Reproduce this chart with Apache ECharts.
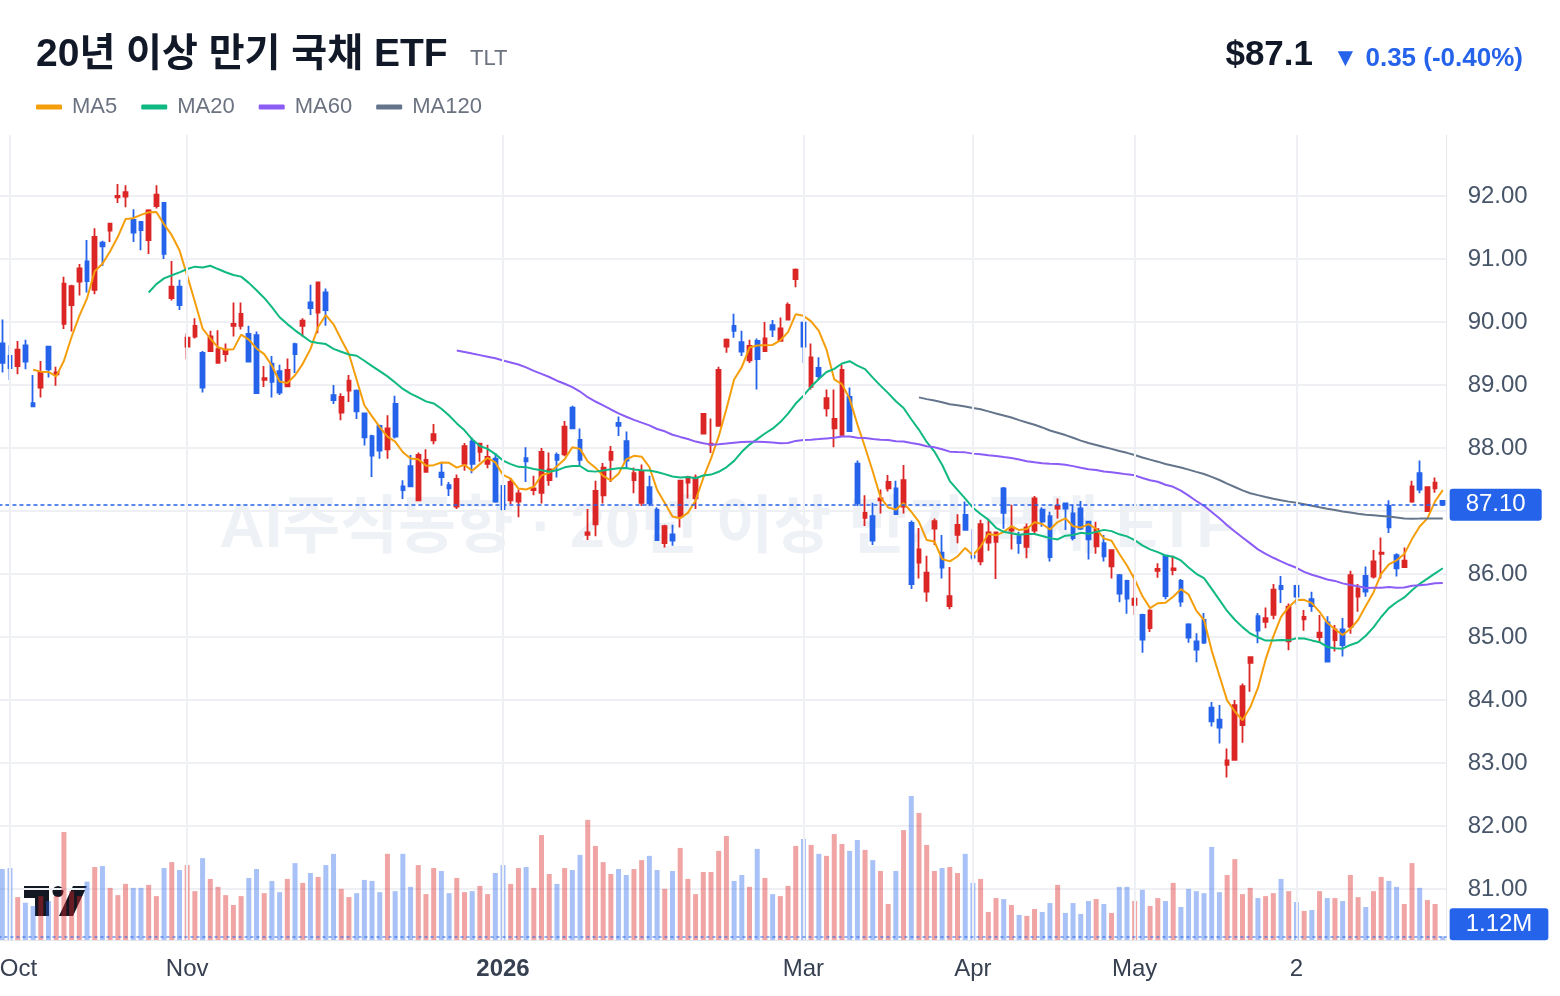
<!DOCTYPE html>
<html><head><meta charset="utf-8">
<script src="https://cdn.jsdelivr.net/npm/echarts@6/dist/echarts.min.js"></script>
<style>html,body{margin:0;padding:0;background:#fff}#c{width:1560px;height:996px}</style>
</head><body><div id="c"></div>
<script>
const openP = [
89.66,89.46,89.30,89.63,88.71,88.96,89.61,89.17,89.97,90.27,
90.64,90.96,90.51,91.26,91.45,91.98,91.99,91.62,91.59,91.30,
91.84,91.89,90.38,90.56,89.61,89.77,89.51,89.54,89.35,89.49,
89.94,89.94,89.81,89.79,89.08,89.34,89.22,88.98,89.65,89.94,
90.31,90.15,90.47,88.84,88.56,88.91,88.91,88.55,88.19,88.35,
87.98,88.70,87.39,87.71,87.17,87.62,88.12,87.61,87.41,87.07,
87.75,88.10,87.94,87.75,87.83,87.40,87.17,87.15,87.84,87.33,
87.29,87.49,87.89,87.90,88.64,88.13,86.62,86.79,87.25,87.81,
88.40,88.11,87.49,87.13,87.38,87.02,86.49,86.63,86.91,87.45,
87.20,88.23,88.05,88.35,89.61,89.94,89.68,89.39,89.70,89.54,
89.95,89.70,90.04,90.68,89.99,88.97,89.27,88.63,88.31,88.21,
88.81,87.75,86.89,86.92,87.17,87.36,87.36,87.07,86.81,86.18,
85.72,86.72,86.34,85.49,86.62,86.94,86.29,86.20,86.50,86.51,
87.36,86.69,86.60,86.43,86.69,87.02,86.92,87.04,87.12,86.96,
87.04,86.83,86.44,86.49,86.12,85.98,85.89,85.51,85.35,85.14,
86.05,86.29,86.06,85.89,85.20,84.93,85.27,83.88,83.69,82.97,
83.05,83.60,84.59,85.33,85.24,85.35,85.81,84.93,85.81,85.28,
85.60,85.00,85.23,84.95,85.12,85.16,85.64,85.97,85.96,86.32,
87.08,86.30,86.11,87.15,87.60,87.00,87.36,87.16];
const highP = [
90.04,89.63,89.70,89.72,89.16,89.38,89.62,89.29,90.72,90.59,
90.92,91.30,91.49,91.29,91.56,92.19,92.17,91.79,91.60,91.79,
92.17,91.89,90.97,90.67,89.82,90.06,89.54,89.86,89.87,89.66,
90.31,90.31,89.94,89.85,89.30,89.46,89.32,89.42,89.67,90.06,
90.59,90.63,90.53,89.00,88.87,89.16,88.93,88.55,88.21,88.37,
88.52,88.83,87.49,87.89,87.93,87.98,88.38,87.76,87.46,87.58,
88.08,88.17,88.08,88.05,87.92,87.41,87.52,87.34,88.01,87.56,
88.00,87.93,87.93,88.43,88.67,88.31,87.03,87.48,87.76,88.03,
88.50,88.26,87.69,87.74,87.56,87.06,86.78,86.78,87.49,87.56,
87.58,88.55,88.47,89.29,89.74,90.13,89.86,89.72,89.74,90.00,
90.03,90.07,90.31,90.85,90.00,89.66,89.44,88.93,88.93,89.32,
88.96,87.80,87.25,87.13,87.34,87.57,87.48,87.73,86.85,86.73,
86.29,86.88,86.62,86.11,86.95,87.15,86.71,86.86,86.86,86.67,
87.38,87.10,86.67,86.80,87.24,87.06,86.99,87.20,87.12,87.10,
87.16,86.83,86.83,86.62,86.38,86.00,85.91,86.00,85.37,85.44,
86.17,86.30,86.29,85.92,85.22,85.06,85.38,83.97,83.92,83.23,
84.00,84.26,84.68,85.38,85.47,85.84,85.97,85.53,85.83,85.43,
85.72,85.35,85.33,85.19,85.30,86.05,85.84,86.12,86.38,86.58,
87.17,86.33,86.42,87.48,87.80,87.38,87.53,87.17];
const lowP = [
89.20,89.08,89.17,89.25,88.65,88.80,89.12,88.99,89.89,89.85,
90.42,90.47,90.44,90.89,91.27,91.89,91.82,91.27,91.14,91.08,
91.80,91.00,90.34,90.19,89.41,89.74,88.88,89.53,89.35,89.37,
89.77,89.88,89.37,88.86,88.97,88.80,88.84,88.97,89.19,89.77,
90.11,89.82,89.94,88.70,88.44,88.73,88.46,88.04,87.54,87.83,
87.83,88.15,87.19,87.39,87.16,87.62,88.06,87.40,87.24,87.03,
87.64,87.60,87.78,87.68,87.13,87.00,87.11,86.90,87.46,87.25,
87.12,87.40,87.53,87.87,88.30,87.71,86.54,86.60,87.12,87.46,
88.19,87.68,87.28,87.08,87.08,86.54,86.42,86.45,86.74,87.20,
87.03,88.22,87.92,88.34,89.51,89.75,89.46,89.35,88.93,89.53,
89.76,89.70,90.04,90.55,89.35,88.93,89.08,88.50,88.01,88.19,
88.26,87.08,86.76,86.46,86.96,87.31,86.94,86.96,85.76,85.93,
85.56,86.46,85.93,85.44,86.49,86.70,86.22,86.14,86.37,85.92,
86.72,86.39,86.32,86.25,86.63,86.75,86.20,86.88,86.70,86.53,
86.70,86.23,86.32,86.20,85.93,85.55,85.37,85.35,84.75,85.08,
85.94,85.60,85.98,85.48,84.91,84.60,84.89,83.58,83.31,82.77,
83.04,83.32,84.13,84.90,85.14,85.28,85.54,84.79,85.51,85.10,
85.40,84.91,84.61,84.77,84.69,85.05,85.40,85.64,85.93,85.93,
86.65,85.96,86.11,87.13,87.28,86.99,87.29,87.08];
const closeP = [
89.35,89.27,89.56,89.37,88.66,89.20,89.25,89.20,90.61,90.57,
90.85,90.65,91.35,91.20,91.56,92.00,92.06,91.42,91.46,91.77,
92.02,91.08,90.56,90.27,89.75,89.94,88.96,89.77,89.57,89.56,
89.97,90.13,89.37,88.87,89.11,89.05,88.88,89.24,89.49,90.02,
90.22,90.63,90.19,88.76,88.81,89.07,88.58,88.17,87.88,87.96,
88.31,88.18,87.33,87.39,87.89,87.81,88.22,87.54,87.36,87.51,
88.03,87.75,88.07,87.86,87.15,87.03,87.46,87.28,87.79,87.36,
87.94,87.66,87.81,88.34,88.31,87.81,86.66,87.32,87.69,87.94,
88.35,87.80,87.60,87.62,87.12,86.54,86.76,86.53,87.48,87.54,
87.53,88.54,88.07,89.24,89.72,89.86,89.53,89.62,89.41,89.74,
89.88,89.90,90.27,90.83,89.61,89.44,89.14,88.79,88.46,89.24,
88.27,87.12,86.97,86.53,87.20,87.46,86.95,87.49,85.84,86.39,
86.02,86.84,86.10,85.65,86.78,86.70,86.26,86.79,86.66,86.66,
86.97,86.71,86.49,86.74,87.20,86.83,86.27,87.08,87.04,86.57,
86.72,86.55,86.71,86.28,86.38,85.69,85.61,85.61,84.96,85.42,
86.08,85.65,86.09,85.56,84.99,84.80,84.91,83.66,83.56,83.04,
83.92,84.22,84.68,85.10,85.30,85.75,85.76,85.48,85.64,85.32,
85.49,85.07,84.61,85.12,84.87,85.98,85.77,85.72,86.20,86.34,
86.74,86.09,86.21,87.39,87.34,87.38,87.45,87.10];
const volumeM = [
21.5,21.8,13.0,11.3,10.3,13.3,11.8,13.3,32.7,14.8,
13.3,17.7,22.1,22.4,15.8,13.6,17.0,15.8,15.8,16.7,
13.3,21.8,23.6,21.2,22.7,14.8,24.8,18.5,16.1,13.6,
10.6,13.3,18.8,21.5,14.2,17.9,14.5,18.5,23.3,17.3,
20.3,19.1,22.7,26.1,15.5,13.0,14.2,18.2,17.9,14.5,
26.1,14.8,26.1,16.1,22.7,13.9,21.8,20.9,14.2,18.8,
14.5,14.8,16.4,13.9,20.3,22.7,17.0,21.8,22.1,15.8,
31.8,20.0,17.0,21.8,21.2,25.8,36.4,28.5,23.6,20.0,
21.5,19.7,21.5,24.2,25.5,21.2,15.5,20.9,27.9,18.5,
13.9,20.6,20.6,27.0,31.5,17.9,19.7,16.1,27.6,18.8,
13.9,13.3,16.4,28.5,30.6,28.8,26.1,25.5,32.1,29.1,
27.0,30.3,27.3,24.2,20.9,10.9,20.9,33.3,43.6,38.5,
28.8,20.9,21.8,22.1,20.3,26.1,17.3,18.5,8.5,12.7,
12.4,10.6,7.6,7.3,9.4,8.5,11.2,16.7,8.2,11.2,
7.9,11.8,12.4,10.9,8.2,16.1,16.1,11.8,15.2,10.3,
12.7,11.8,17.3,10.0,15.5,14.8,14.2,28.2,14.5,19.7,
24.5,13.9,15.8,12.7,13.3,14.2,18.5,14.8,11.5,8.8,
9.1,14.8,12.7,12.7,11.8,19.7,13.0,10.0,14.8,19.1,
17.9,16.1,10.9,23.3,15.8,12.1,10.9,1.12];
const tickIndex = [1, 24, 65, 104, 126, 147, 168];
const tickText = ['Oct', 'Nov', '2026', 'Mar', 'Apr', 'May', '2'];
const maPeriods = [5, 20, 60, 120];
const maNames = ['MA5', 'MA20', 'MA60', 'MA120'];
const maColors = ['#f59e0b', '#10b981', '#8b5cf6', '#64748b'];
const lastPrice = 87.10;
const lastVolume = 1.12;

const UP = '#dc2626', DOWN = '#2563eb';
const FONT = "'Liberation Sans','Noto Sans CJK KR',sans-serif";
const cats = closeP.map((_, i) => 'd' + i);
const ohlc = closeP.map((c, i) => [openP[i], c, lowP[i], highP[i]]);
function sma(n) {
  return closeP.map((_, i) => {
    if (i < n - 1) return '-';
    let s = 0; for (let k = i - n + 1; k <= i; k++) s += closeP[k];
    return +(s / n).toFixed(4);
  });
}
const volData = volumeM.map((v, i) => ({
  value: v,
  itemStyle: { color: closeP[i] >= openP[i] ? 'rgba(220,38,38,0.42)' : 'rgba(37,99,235,0.40)' }
}));

const GL = -1.55, GW = 1448.2;
const chart = echarts.init(document.getElementById('c'), null, { renderer: 'canvas' });
const option = {
  animation: false,
  backgroundColor: '#ffffff',
  textStyle: { fontFamily: FONT },
  title: [
    { text: '20년 이상 만기 국채 ETF', left: 36, top: 36, padding: 0,
      textStyle: { fontSize: 39, fontWeight: 'bold', color: '#111827', fontFamily: FONT } },
    { text: 'TLT', left: 470, top: 48, padding: 0,
      textStyle: { fontSize: 22, fontWeight: 'normal', color: '#6b7280', fontFamily: FONT } },
    { text: '$87.1', right: 247, top: 38, padding: 0,
      textStyle: { fontSize: 35, fontWeight: 'bold', color: '#111827', fontFamily: FONT } },
    { text: '▼ 0.35 (-0.40%)', right: 37, top: 46, padding: 0,
      textStyle: { fontSize: 26, fontWeight: 'bold', color: '#2563eb', fontFamily: FONT } }
  ],
  legend: {
    data: maNames, left: 36, top: 96, padding: 0,
    icon: 'roundRect', itemWidth: 26, itemHeight: 5, itemGap: 24,
    textStyle: { fontSize: 22, color: '#6b7280', padding: [0, 0, 0, 5], fontFamily: FONT },
    selectedMode: false
  },
  grid: [
    { left: GL, width: GW, top: 133, height: 819, outerBoundsMode: 'none', containLabel: false },
    { left: GL, width: GW, top: 135, height: 805, outerBoundsMode: 'none', containLabel: false }
  ],
  xAxis: [
    { type: 'category', gridIndex: 0, data: cats, show: false, boundaryGap: true },
    { type: 'category', gridIndex: 1, data: cats, boundaryGap: true,
      axisLine: { show: true, lineStyle: { color: '#e5e7eb', width: 1 } },
      axisTick: { show: false }, splitLine: { show: false },
      axisLabel: {
        interval: (idx) => tickIndex.indexOf(idx) >= 0,
        margin: 17, fontSize: 24, color: '#374151', fontFamily: FONT,
        formatter: (val, idx) => {
          const k = tickIndex.indexOf(idx);
          if (k < 0) return '';
          const t = tickText[k];
          if (k === 0) return '{o|' + t + '}';
          if (t === '2026') return '{b|' + t + '}';
          return t;
        },
        rich: {
          o: { padding: [0, 0, 0, 17], fontSize: 24, color: '#374151', fontFamily: FONT },
          b: { fontWeight: 'bold', fontSize: 24, color: '#374151', fontFamily: FONT }
        }
      }
    }
  ],
  yAxis: [
    { type: 'value', gridIndex: 0, position: 'right', min: 80, max: 93, interval: 1, scale: false,
      axisLine: { show: false }, axisTick: { show: false },
      splitLine: { show: true, showMinLine: false, showMaxLine: false, lineStyle: { color: '#eef0f4', width: 2 } },
      axisLabel: { formatter: (v) => v.toFixed(2), fontSize: 24, color: '#475569', margin: 21,
        showMinLabel: false, showMaxLabel: false, fontFamily: FONT } },
    { type: 'value', gridIndex: 1, position: 'right', min: 0, max: 243.9,
      axisLine: { show: true, lineStyle: { color: '#e5e7eb', width: 1 } },
      axisTick: { show: false }, axisLabel: { show: false }, splitLine: { show: false } }
  ],
  graphic: [
    { type: 'text', z: -10, silent: true, x: 727, y: 530,
      style: { text: 'AI주식동향 · 20년 이상 만기 국채 ETF', fill: 'rgba(203,213,225,0.32)',
        font: "bold 63px 'Liberation Sans','Noto Sans CJK KR',sans-serif", align: 'center', verticalAlign: 'middle' } },
    { type: 'group', z: 100, silent: true, children: [
      { type: 'polygon', shape: { points: [[24,886],[49,886],[49,916],[35,916],[35,898],[24,898]] },
        style: { fill: '#131722', stroke: '#ffffff', lineWidth: 4, strokeFirst: true } },
      { type: 'circle', shape: { cx: 58, cy: 891.5, r: 5.5 },
        style: { fill: '#131722', stroke: '#ffffff', lineWidth: 4, strokeFirst: true } },
      { type: 'polygon', shape: { points: [[59,916],[73,916],[87,886],[73,886]] },
        style: { fill: '#131722', stroke: '#ffffff', lineWidth: 4, strokeFirst: true } }
    ] }
  ],
  series: [
    { name: 'TLT', type: 'candlestick', xAxisIndex: 0, yAxisIndex: 0, data: ohlc, barWidth: 4.2,
      itemStyle: { color: UP, color0: DOWN, borderColor: UP, borderColor0: DOWN, borderWidth: 1.8 },
      markLine: { silent: true, symbol: ['none', 'none'], animation: false,
        data: [{ yAxis: lastPrice }],
        lineStyle: { color: '#2563eb', type: [4, 3], width: 1.5 },
        label: { show: true, position: 'end', formatter: lastPrice.toFixed(2), distance: 3,
          backgroundColor: '#2563eb', color: '#ffffff', fontSize: 24, lineHeight: 26, padding: [3, 16, 3, 16],
          borderRadius: 3, fontFamily: FONT } } },
    ...maPeriods.map((p, k) => ({
      name: maNames[k], type: 'line', xAxisIndex: 0, yAxisIndex: 0, data: sma(p),
      showSymbol: false, symbol: 'none', smooth: false,
      lineStyle: { color: maColors[k], width: 2 }, itemStyle: { color: maColors[k] }
    })),
    { name: 'Volume', type: 'bar', xAxisIndex: 1, yAxisIndex: 1, data: volData, barWidth: 5, z: 1,
      markLine: { silent: true, symbol: ['none', 'none'], animation: false,
        data: [
          ...tickIndex.map(i => ({ xAxis: i, lineStyle: { color: '#eef0f4', width: 2, type: 'solid' }, label: { show: false } })),
          { yAxis: lastVolume, lineStyle: { color: 'rgba(37,99,235,0.5)', width: 2, type: [3, 3] },
            label: { show: true, position: 'end', formatter: lastVolume.toFixed(2) + 'M', distance: 3,
              offset: [0, -12], backgroundColor: '#2563eb', color: '#ffffff', fontSize: 24, lineHeight: 26,
              padding: [3, 16, 3, 16], borderRadius: 3, fontFamily: FONT } }
        ] } }
  ]
};
chart.setOption(option);
</script></body></html>
